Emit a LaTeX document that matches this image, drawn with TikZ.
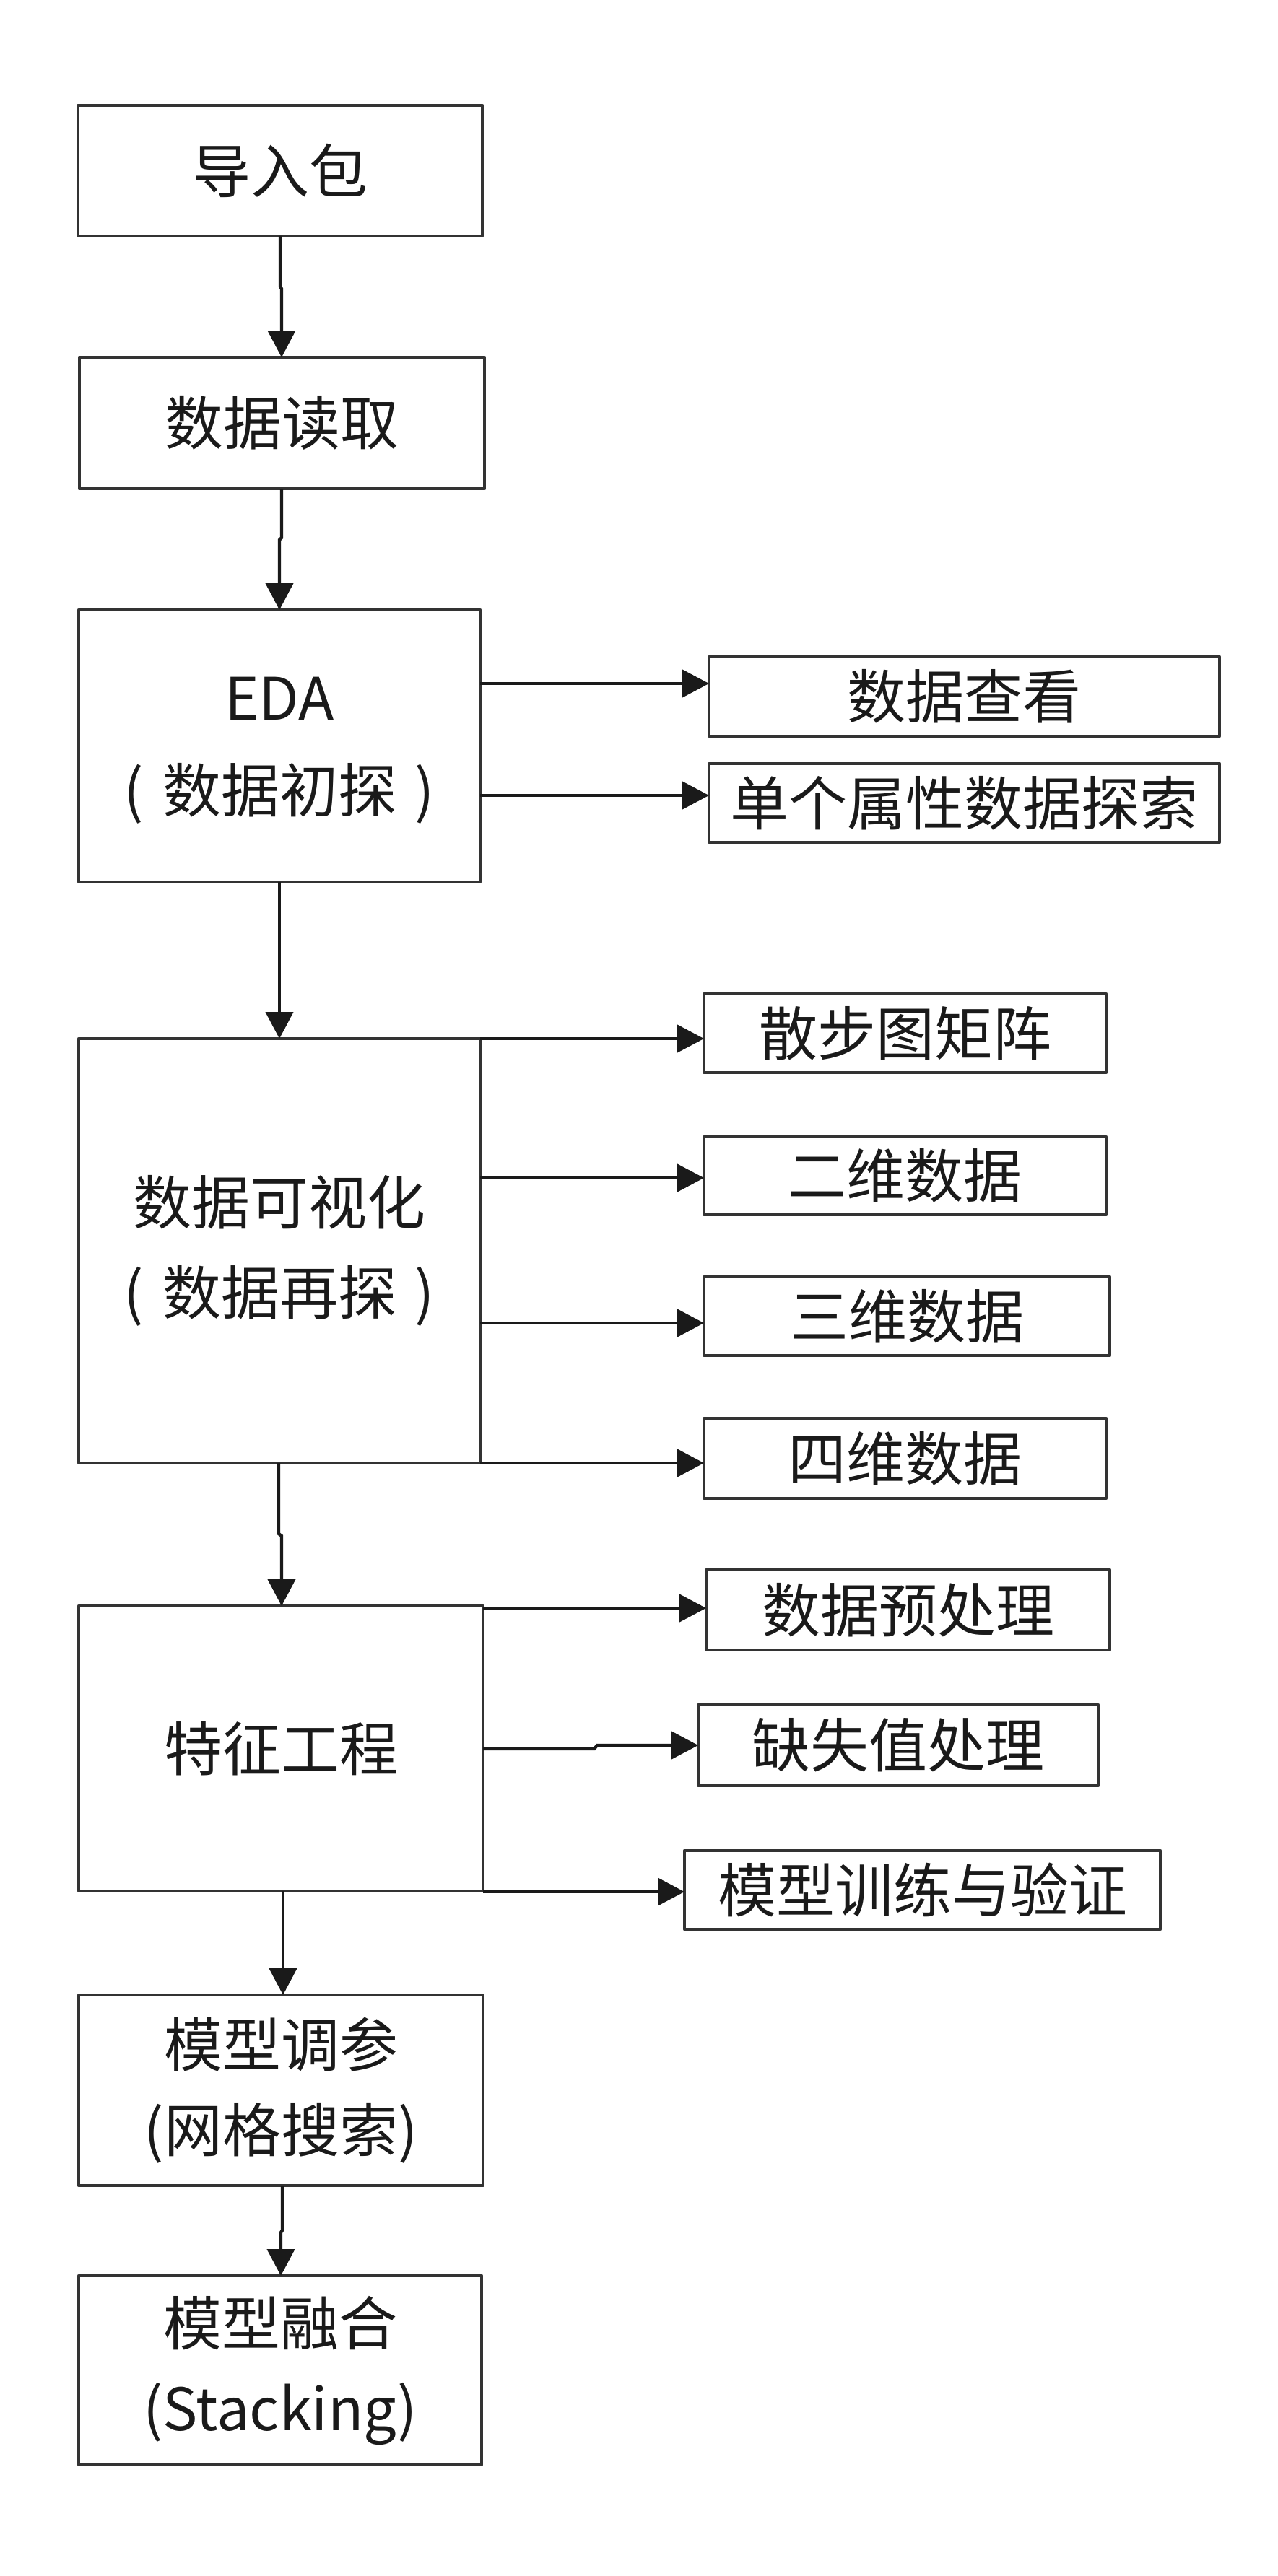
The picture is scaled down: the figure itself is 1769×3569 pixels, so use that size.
\documentclass[tikz,border=0pt]{standalone}
\usepackage{fontspec}
\setmainfont{Noto Sans CJK SC}
\usetikzlibrary{arrows.meta}
\definecolor{boxline}{HTML}{333333}
\definecolor{arrline}{HTML}{1A1A1A}
\definecolor{txt}{HTML}{1A1A1A}
\newcommand\wideparen[1]{(\hspace{0.32em}#1\hspace{0.32em})}
\begin{document}
\begin{tikzpicture}[x=0.5pt,y=-0.5pt,
  box/.style={draw=boxline, line width=2.3pt, fill=white, inner sep=0pt, outer sep=0pt,
    align=center, text=txt, font=\fontsize{40.5}{64}\selectfont, line join=round},
  label text/.style={inner sep=0pt, align=center, text=txt},
  arr/.style={draw=arrline, line width=2.2pt, -{Triangle[length=18.5pt,width=19pt]}}]
\fill[white] (0,0) rectangle (1769,3569);
\useasboundingbox (0,0) rectangle (1769,3569);

% main column
\node[box, minimum width=280pt, minimum height=90.5pt] (b1) at (388,236.5) {导入包};
\node[box, minimum width=280.5pt, minimum height=91pt] (b2) at (390.5,586) {数据读取};
\node[box, minimum width=278pt, minimum height=188.5pt] (b3) at (387,1033.5) {};
\node[label text, font=\fontsize{40.5}{64}\selectfont, yshift=-3pt] (b3t) at (b3.center)
  {EDA\\\wideparen{数据初探}};
\node[box, minimum width=278pt, minimum height=294pt, font=\fontsize{40.5}{62.5}\selectfont] (b4) at (387,1733)
  {数据可视化\\\wideparen{数据再探}};
\node[box, minimum width=280pt, minimum height=197.5pt] (b5) at (389,2422.5) {特征工程};
\node[box, minimum width=280pt, minimum height=132pt, font=\fontsize{40.5}{59}\selectfont] (b6) at (389,2896)
  {模型调参\\(网格搜索)};
\node[box, minimum width=279pt, minimum height=131pt, font=\fontsize{40.5}{59}\selectfont] (b7) at (388,3284)
  {模型融合\\(Stacking)};

% side boxes
\node[box, minimum width=353.5pt, minimum height=55pt] (r1) at (1335.5,965) {数据查看};
\node[box, minimum width=353.5pt, minimum height=54.5pt] (r2) at (1335.5,1112.5) {单个属性数据探索};
\node[box, minimum width=278.5pt, minimum height=54.5pt] (r3) at (1253.5,1431.5) {散步图矩阵};
\node[box, minimum width=278.5pt, minimum height=54pt] (r4) at (1253.5,1629) {二维数据};
\node[box, minimum width=281pt, minimum height=54.5pt] (r5) at (1256,1823.5) {三维数据};
\node[box, minimum width=278.5pt, minimum height=55.5pt] (r6) at (1253.5,2020.5) {四维数据};
\node[box, minimum width=279.5pt, minimum height=55.5pt] (r7) at (1257.5,2230.5) {数据预处理};
\node[box, minimum width=277pt, minimum height=56pt] (r8) at (1244,2418) {缺失值处理};
\node[box, minimum width=329.5pt, minimum height=54.5pt] (r9) at (1277.5,2618.5) {模型训练与验证};

% vertical flow
\draw[arr] (b1.south -| 388,0) -- (388,397) -- (390,400) -- (b2.north -| 390,0);
\draw[arr] (b2.south -| 390,0) -- (390,745) -- (387,748) -- (b3.north -| 387,0);
\draw[arr] (b3.south -| 387,0) -- (b4.north -| 387,0);
\draw[arr] (b4.south -| 386,0) -- (386,2125) -- (390,2128) -- (b5.north -| 390,0);
\draw[arr] (b5.south -| 392,0) -- (b6.north -| 392,0);
\draw[arr] (b6.south -| 391,0) -- (391,3090) -- (389,3093) -- (b7.north -| 389,0);

% branches of EDA
\draw[arr] (b3.east |- 0,947) -- (r1.west |- 0,947);
\draw[arr] (b3.east |- 0,1102) -- (r2.west |- 0,1102);

% branches of visualisation
\draw[arr] (b4.north east) -- (r3.west |- b4.north east);
\draw[arr] (b4.east |- 0,1632) -- (r4.west |- 0,1632);
\draw[arr] (b4.east |- 0,1833) -- (r5.west |- 0,1833);
\draw[arr] (b4.south east) -- (r6.west |- b4.south east);

% branches of feature engineering
\draw[arr] (b5.east |- 0,2228) -- (r7.west |- 0,2228);
\draw[arr] (b5.east |- 0,2423) -- (823,2423) -- (827,2418) -- (r8.west);
\draw[arr] (b5.east |- 0,2621) -- (r9.west |- 0,2621);
\end{tikzpicture}
\end{document}
